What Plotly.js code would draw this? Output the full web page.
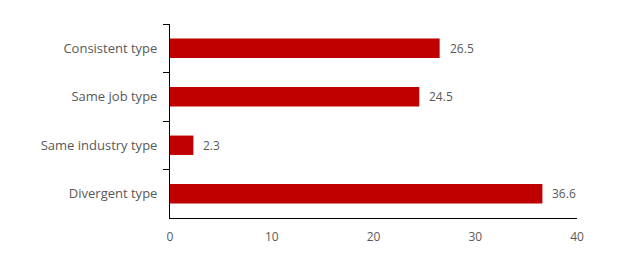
<!DOCTYPE html>
<html>
<head>
<meta charset="utf-8">
<script src="https://cdn.plot.ly/plotly-3.0.1.min.js"></script>
<style>html,body{margin:0;padding:0;background:#fff;}#chart{width:633px;height:273px;}</style>
</head>
<body>
<div id="chart"></div>
<script>
var categories = ["Consistent type", "Same job type", "Same industry type", "Divergent type"];
var values = [26.5, 24.5, 2.3, 36.6];
var xTicks = [0, 10, 20, 30, 40];

var textColor = "#595959";
var fontFam = "'Open Sans', sans-serif";

var trace = {
  type: "bar",
  orientation: "h",
  x: values,
  y: categories,
  marker: {color: "#C00000"},
  hoverinfo: "none"
};

var annotations = categories.map(function(c, i) {
  return {
    x: values[i], y: c, xref: "x", yref: "y",
    text: values[i].toFixed(1), showarrow: false,
    xanchor: "left", xshift: 8,
    font: {family: fontFam, size: 12, color: textColor}
  };
});

var layout = {
  width: 633, height: 273,
  margin: {l: 170, r: 56, t: 24, b: 55},
  paper_bgcolor: "#fff", plot_bgcolor: "#fff",
  showlegend: false,
  bargap: 0.6,
  font: {family: fontFam, size: 12, color: textColor},
  xaxis: {
    range: [0, 40], tickvals: xTicks, ticktext: xTicks.map(String),
    showgrid: false, zeroline: false, showline: true, linecolor: "#000", linewidth: 1,
    ticks: "", ticklabelstandoff: 8, fixedrange: true,
    tickfont: {family: fontFam, size: 12, color: textColor}
  },
  yaxis: {
    autorange: "reversed", type: "category",
    showgrid: false, zeroline: false, showline: true, linecolor: "#000", linewidth: 1,
    ticks: "outside", ticklen: 6, tickcolor: "#000", tickson: "boundaries",
    ticklabelstandoff: 9, fixedrange: true,
    tickfont: {family: fontFam, size: 13, color: textColor}
  },
  annotations: annotations
};

Plotly.newPlot("chart", [trace], layout, {displayModeBar: false, staticPlot: true});
</script>
</body>
</html>
